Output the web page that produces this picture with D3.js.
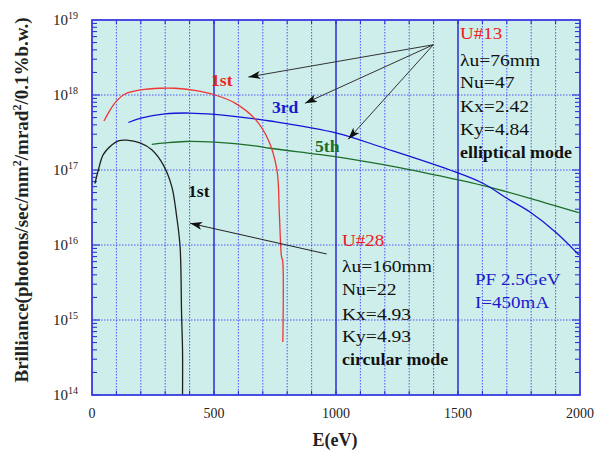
<!DOCTYPE html>
<html><head><meta charset="utf-8">
<script src="https://cdn.jsdelivr.net/npm/d3@7"></script>
<style>body{margin:0;background:#fff}svg{display:block}text{font-family:"Liberation Serif","Times New Roman","DejaVu Serif",serif}</style>
</head><body><svg id="c" width="596" height="450"></svg>
<script>
// ---- data ----
const xTicks = [0, 500, 1000, 1500, 2000];
const decadeExps = [14, 15, 16, 17, 18, 19];

// U#13 1st harmonic (red)
const u13First_E = [49, 74, 100, 135, 200, 280, 340, 420, 504, 586, 668, 723, 758, 768, 777, 781, 782];
const u13First_B = [4.5e17, 6.3e17, 8.3e17, 1.03e18, 1.17e18, 1.23e18, 1.23e18, 1.15e18, 1.0e18, 7.8e17, 4.8e17, 2.5e17, 1.0e17, 2.5e16, 6.9e15, 6.3e15, 5.1e14];
// U#13 3rd harmonic (blue)
const u13Third_E = [149, 200, 299, 400, 504, 668, 730, 1003, 1200, 1467, 1604, 1700, 1795, 1904, 1995];
const u13Third_B = [4.3e17, 4.9e17, 5.6e17, 5.75e17, 5.5e17, 4.8e17, 4.5e17, 3.1e17, 1.95e17, 1.0e17, 6.6e16, 4.2e16, 2.75e16, 1.45e16, 7.4e15];
// U#13 5th harmonic (green)
const u13Fifth_E = [245, 300, 381, 504, 668, 730, 1003, 1200, 1467, 1604, 1795, 1995];
const u13Fifth_B = [2.2e17, 2.3e17, 2.4e17, 2.35e17, 2.1e17, 1.95e17, 1.5e17, 1.17e17, 7.8e16, 6.2e16, 4.2e16, 2.7e16];
// U#28 1st harmonic (black)
const u28First_E = [12, 26, 46, 81, 108, 142, 197, 245, 292, 327, 347, 361, 367, 371, 371];
const u28First_B = [6.6e16, 1.0e17, 1.6e17, 2.15e17, 2.45e17, 2.5e17, 2.3e17, 1.86e17, 1.17e17, 6.0e16, 2.4e16, 9.5e15, 1.23e15, 4e14, 1e14];

const u13Lines = ["λu=76mm", "Nu=47", "Kx=2.42", "Ky=4.84"];
const u28Lines = ["λu=160mm", "Nu=22", "Kx=4.93", "Ky=4.93"];

// ---- chart ----
const svg = d3.select("#c");
const L = 92, R = 580, T = 20, B = 395;
const x = d3.scaleLinear().domain([0, 2000]).range([L, R]);
const y = d3.scaleLog().domain([1e14, 1e19]).range([B, T]);

svg.append("rect").attr("x", L).attr("y", T).attr("width", R - L).attr("height", B - T).attr("fill", "#cdeeea");

// dotted grid
const g = svg.append("g");
d3.range(100, 2000, 100).filter(v => v % 500 !== 0).forEach(v => {
  g.append("line").attr("x1", x(v)).attr("x2", x(v)).attr("y1", T).attr("y2", B)
    .attr("stroke", "#3b3bff").attr("stroke-width", 1).attr("stroke-dasharray", "1.5,1.5").attr("opacity", 0.85);
});
decadeExps.slice(1, -1).forEach(e => {
  g.append("line").attr("x1", L).attr("x2", R).attr("y1", y(Math.pow(10, e))).attr("y2", y(Math.pow(10, e)))
    .attr("stroke", "#3b3bff").attr("stroke-width", 1).attr("stroke-dasharray", "1.5,1.5").attr("opacity", 0.85);
});
[500, 1000, 1500].forEach(v => {
  g.append("line").attr("x1", x(v)).attr("x2", x(v)).attr("y1", T).attr("y2", B)
    .attr("stroke", "#1010d0").attr("stroke-width", 1.3);
});

// minor/major ticks on y (both sides, inward)
decadeExps.slice(0, -1).forEach(e => {
  for (let k = 1; k <= 9; k++) {
    const yy = y(k * Math.pow(10, e));
    const len = k === 1 ? 8 : 5;
    g.append("line").attr("x1", L).attr("x2", L + len).attr("y1", yy).attr("y2", yy).attr("stroke", "#2525d8").attr("stroke-width", 1);
    g.append("line").attr("x1", R).attr("x2", R - len).attr("y1", yy).attr("y2", yy).attr("stroke", "#2525d8").attr("stroke-width", 1);
  }
});
// x ticks top & bottom
d3.range(100, 2000, 100).forEach(v => {
  g.append("line").attr("x1", x(v)).attr("x2", x(v)).attr("y1", B).attr("y2", B - 4).attr("stroke", "#2525d8");
  g.append("line").attr("x1", x(v)).attr("x2", x(v)).attr("y1", T).attr("y2", T + 4).attr("stroke", "#2525d8");
});

// curves
const line = d3.line().x(d => x(d[0])).y(d => y(d[1])).curve(d3.curveCatmullRom.alpha(0.5));
function curve(E, Bv, color, w) {
  svg.append("path").datum(d3.zip(E, Bv)).attr("d", line).attr("fill", "none")
    .attr("stroke", color).attr("stroke-width", w).attr("stroke-linejoin", "round");
}
curve(u13Fifth_E, u13Fifth_B, "#1d6e2a", 1.3);
curve(u13Third_E, u13Third_B, "#1414d8", 1.3);
curve(u13First_E, u13First_B, "#f03535", 1.3);
curve(u28First_E, u28First_B, "#202020", 1.3);

// frame
svg.append("rect").attr("x", L).attr("y", T).attr("width", R - L).attr("height", B - T)
  .attr("fill", "none").attr("stroke", "#3a3ae0").attr("stroke-width", 1.8);

// axes labels
const xl = svg.append("g").attr("font-size", 14).attr("fill", "#222");
xTicks.forEach(v => {
  xl.append("text").attr("x", x(v)).attr("y", 418).attr("text-anchor", "middle").text(v);
});
decadeExps.forEach(e => {
  const t = xl.append("text").attr("x", 53).attr("y", y(Math.pow(10, e)) + 5).attr("font-size", 15);
  t.append("tspan").text("10");
  t.append("tspan").attr("dy", -6).attr("font-size", 10).text(e);
});
svg.append("text").attr("x", 335).attr("y", 446).attr("text-anchor", "middle")
  .attr("font-weight", "bold").attr("font-size", 18).attr("fill", "#222").text("E(eV)");
const yt = svg.append("text").attr("transform", "translate(28,200) rotate(-90)").attr("text-anchor", "middle")
  .attr("font-weight", "bold").attr("font-size", 19).attr("fill", "#222");
yt.append("tspan").text("Brilliance(photons/sec/mm");
yt.append("tspan").attr("dy", -7).attr("font-size", 12).text("2");
yt.append("tspan").attr("dy", 7).text("/mrad");
yt.append("tspan").attr("dy", -7).attr("font-size", 12).text("2");
yt.append("tspan").attr("dy", 7).text("/0.1%b.w.)");

// arrows
const defs = svg.append("defs");
defs.append("marker").attr("id", "ah").attr("viewBox", "0 0 12 8").attr("refX", 12).attr("refY", 4)
  .attr("markerWidth", 12).attr("markerHeight", 8).attr("markerUnits", "userSpaceOnUse").attr("orient", "auto")
  .append("path").attr("d", "M0,0 L12,4 L0,8 L3,4 Z").attr("fill", "#111");
const arrowFrom = [1399, Math.pow(10, 18.67)];
const arrowTo = [[641, Math.pow(10, 18.24)], [873, Math.pow(10, 17.89)], [1050, Math.pow(10, 17.41)]];
arrowTo.forEach(p => {
  svg.append("line").attr("x1", x(arrowFrom[0])).attr("y1", y(arrowFrom[1])).attr("x2", x(p[0])).attr("y2", y(p[1]))
    .attr("stroke", "#333").attr("stroke-width", 1).attr("marker-end", "url(#ah)");
});
svg.append("line").attr("x1", x(962)).attr("y1", y(Math.pow(10, 15.88))).attr("x2", x(402)).attr("y2", y(Math.pow(10, 16.29)))
  .attr("stroke", "#222").attr("stroke-width", 1).attr("marker-end", "url(#ah)");

// text labels
function label(t, px, py, color, size, weight, sx) {
  svg.append("text").attr("transform", `translate(${px},${py}) scale(${sx},1)`)
    .attr("font-size", size).attr("font-weight", weight).attr("fill", color).text(t);
}
label("1st", 211, 86, "#f02020", 16, "bold", 1.1);
label("3rd", 272, 113, "#1a1ad0", 16, "bold", 1.1);
label("5th", 315, 152, "#1d6e2a", 16, "bold", 1.1);
label("1st", 188, 197, "#111", 16, "bold", 1.1);

// U#13 block
label("U#13", 460, 39, "#f01818", 17, "normal", 1.12);
u13Lines.forEach((t, i) => label(t, 460, [65.5, 88, 112, 135][i], "#111", 17, "normal", 1.15));
label("elliptical mode", 460, 158, "#111", 16, "bold", 1.12);
// U#28 block
label("U#28", 342, 246, "#f01818", 17, "normal", 1.12);
u28Lines.forEach((t, i) => label(t, 342, [271.5, 295, 319.5, 342][i], "#111", 17, "normal", 1.15));
label("circular mode", 342, 365, "#111", 16, "bold", 1.12);
// PF
label("PF 2.5GeV", 475, 285, "#1a1ad0", 17, "normal", 1.12);
label("I=450mA", 475, 308, "#1a1ad0", 17, "normal", 1.12);
</script></body></html>
